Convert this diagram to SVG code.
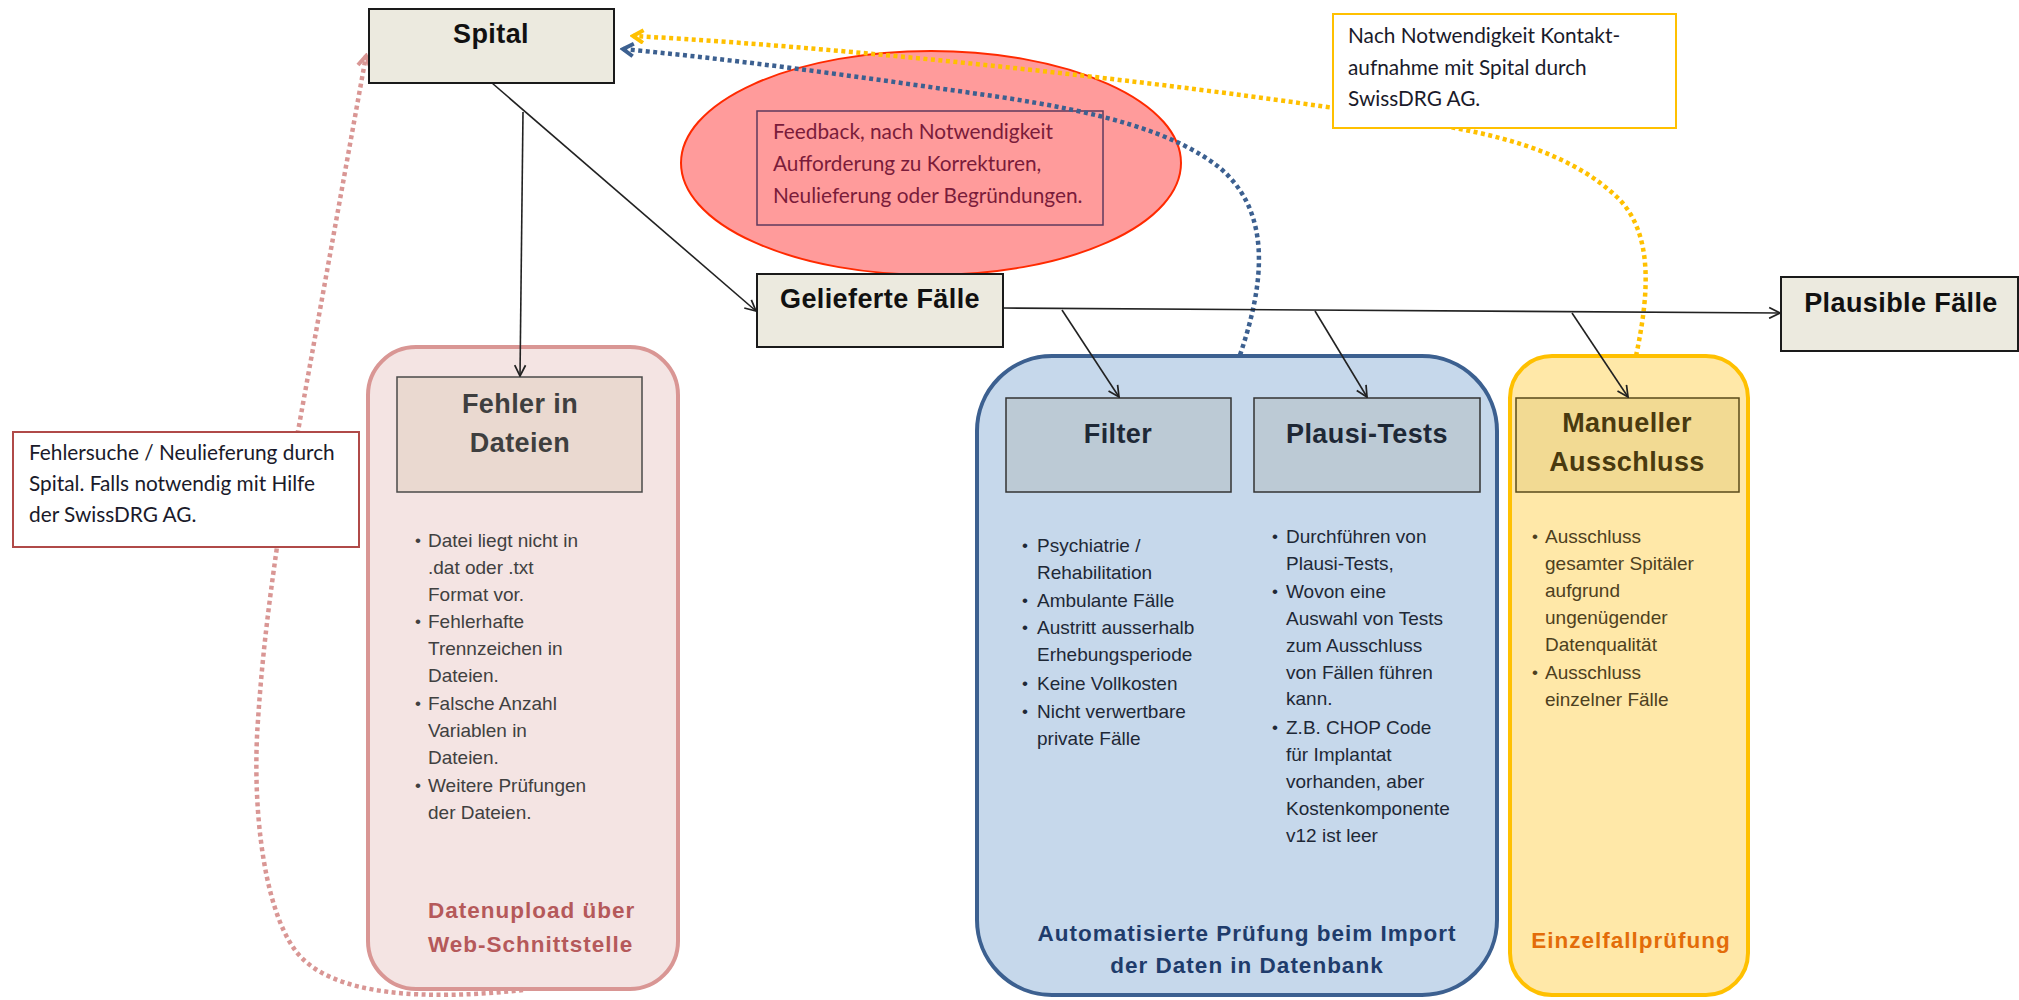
<svg xmlns="http://www.w3.org/2000/svg" width="2019" height="1000" viewBox="0 0 2019 1000">
<style>
.title{font-family:"Liberation Sans",Arial,sans-serif;font-weight:bold;font-size:27px;text-anchor:middle;letter-spacing:0.4px}
.body{font-family:"Liberation Sans",Arial,sans-serif;font-size:19px}
.bul{font-family:"Liberation Sans",Arial,sans-serif;font-size:17px}
.foot{font-family:"Liberation Sans",Arial,sans-serif;font-weight:bold;font-size:22.5px;letter-spacing:1px}
.note{font-family:Lato,"Open Sans",sans-serif;font-size:20.8px}
.mainbox{fill:#ECEADF;stroke:#1a1a1a;stroke-width:2}
.solid{fill:none;stroke:#222;stroke-width:1.6;marker-end:url(#arr)}
.dot{fill:none;stroke-width:4.5;stroke-dasharray:4 3.5}
</style>
<defs>
<marker id="arr" viewBox="0 0 12 12" refX="11" refY="6" markerWidth="13" markerHeight="13" markerUnits="userSpaceOnUse" orient="auto">
<path d="M1,1 L11,6 L1,11" fill="none" stroke="#222" stroke-width="1.6"/>
</marker>
<marker id="arrPink" viewBox="0 0 14 14" refX="11" refY="7" markerWidth="16" markerHeight="16" markerUnits="userSpaceOnUse" orient="auto">
<path d="M2,1.5 L11,7 L2,12.5" fill="none" stroke="#D99694" stroke-width="3.5"/>
</marker>
<marker id="arrBlue" viewBox="0 0 14 14" refX="11" refY="7" markerWidth="16" markerHeight="16" markerUnits="userSpaceOnUse" orient="auto">
<path d="M2,1.5 L11,7 L2,12.5" fill="none" stroke="#3C6090" stroke-width="3.5"/>
</marker>
<marker id="arrYel" viewBox="0 0 14 14" refX="11" refY="7" markerWidth="16" markerHeight="16" markerUnits="userSpaceOnUse" orient="auto">
<path d="M2,1.5 L11,7 L2,12.5" fill="none" stroke="#FFC000" stroke-width="3.5"/>
</marker>
</defs>
<rect width="2019" height="1000" fill="#ffffff"/>

<g id="datenupload">
<rect x="368" y="347" width="310" height="642" rx="48" ry="48" fill="#F4E4E3" stroke="#D99694" stroke-width="4"/>
<text class="foot" fill="#B5595A" x="428" y="918">Datenupload über</text>
<text class="foot" fill="#B5595A" x="428" y="952">Web-Schnittstelle</text>
</g>
<g id="fehler">
<rect x="397" y="377" width="245" height="115" fill="#EAD9D0" stroke="#4a4a4a" stroke-width="1.5"/>
<text class="title" fill="#3F3F3F" x="520" y="413" font-size="26">Fehler in</text>
<text class="title" fill="#3F3F3F" x="520" y="452" font-size="26">Dateien</text>
<g class="bul" fill="#404040">
<text x="415" y="546">•</text><text x="415" y="627">•</text><text x="415" y="709">•</text><text x="415" y="791">•</text>
</g>
<g class="body" fill="#404040">
<text x="428" y="547">Datei liegt nicht in</text>
<text x="428" y="574">.dat oder .txt</text>
<text x="428" y="601">Format vor.</text>
<text x="428" y="628">Fehlerhafte</text>
<text x="428" y="655">Trennzeichen in</text>
<text x="428" y="682">Dateien.</text>
<text x="428" y="710">Falsche Anzahl</text>
<text x="428" y="737">Variablen in</text>
<text x="428" y="764">Dateien.</text>
<text x="428" y="792">Weitere Prüfungen</text>
<text x="428" y="819">der Dateien.</text>
</g>
</g>

<g id="automatisiert">
<rect x="977" y="356" width="520" height="639" rx="75" ry="75" fill="#C6D8EB" stroke="#3C6090" stroke-width="4"/>
<text class="foot" fill="#1F3C6B" x="1247" y="941" text-anchor="middle">Automatisierte Prüfung beim Import</text>
<text class="foot" fill="#1F3C6B" x="1247" y="973" text-anchor="middle">der Daten in Datenbank</text>
</g>
<g id="filter">
<rect x="1006" y="398" width="225" height="94" fill="#BCCAD5" stroke="#333" stroke-width="1.5"/>
<text class="title" fill="#1E2836" x="1118" y="443">Filter</text>
<g class="bul" fill="#1E2836">
<text x="1022" y="551">•</text><text x="1022" y="606">•</text><text x="1022" y="633">•</text><text x="1022" y="689">•</text><text x="1022" y="717">•</text>
</g>
<g class="body" fill="#1E2836">
<text x="1037" y="552">Psychiatrie /</text>
<text x="1037" y="579">Rehabilitation</text>
<text x="1037" y="607">Ambulante Fälle</text>
<text x="1037" y="634">Austritt ausserhalb</text>
<text x="1037" y="661">Erhebungsperiode</text>
<text x="1037" y="690">Keine Vollkosten</text>
<text x="1037" y="718">Nicht verwertbare</text>
<text x="1037" y="745">private Fälle</text>
</g>
</g>
<g id="plausi">
<rect x="1254" y="398" width="226" height="94" fill="#BCCAD5" stroke="#333" stroke-width="1.5"/>
<text class="title" fill="#1E2836" x="1367" y="443">Plausi-Tests</text>
<g class="bul" fill="#1E2836">
<text x="1272" y="542">•</text><text x="1272" y="597">•</text><text x="1272" y="733">•</text>
</g>
<g class="body" fill="#1E2836">
<text x="1286" y="543">Durchführen von</text>
<text x="1286" y="570">Plausi-Tests,</text>
<text x="1286" y="598">Wovon eine</text>
<text x="1286" y="625">Auswahl von Tests</text>
<text x="1286" y="652">zum Ausschluss</text>
<text x="1286" y="679">von Fällen führen</text>
<text x="1286" y="705">kann.</text>
<text x="1286" y="734">Z.B. CHOP Code</text>
<text x="1286" y="761">für Implantat</text>
<text x="1286" y="788">vorhanden, aber</text>
<text x="1286" y="815">Kostenkomponente</text>
<text x="1286" y="842">v12 ist leer</text>
</g>
</g>

<g id="einzelfall">
<rect x="1510" y="356" width="238" height="639" rx="42" ry="42" fill="#FFE8A8" stroke="#FFC000" stroke-width="4"/>
<text class="foot" fill="#E36C09" x="1631" y="948" text-anchor="middle" letter-spacing="0.3">Einzelfallprüfung</text>
</g>
<g id="manuell">
<rect x="1516" y="398" width="223" height="94" fill="#F2DA93" stroke="#5a4a1a" stroke-width="1.5"/>
<text class="title" fill="#4A3A0F" x="1627" y="432">Manueller</text>
<text class="title" fill="#4A3A0F" x="1627" y="471">Ausschluss</text>
<g class="bul" fill="#4D4020">
<text x="1532" y="542">•</text><text x="1532" y="678">•</text>
</g>
<g class="body" fill="#4D4020">
<text x="1545" y="543">Ausschluss</text>
<text x="1545" y="570">gesamter Spitäler</text>
<text x="1545" y="597">aufgrund</text>
<text x="1545" y="624">ungenügender</text>
<text x="1545" y="651">Datenqualität</text>
<text x="1545" y="679">Ausschluss</text>
<text x="1545" y="706">einzelner Fälle</text>
</g>
</g>

<g id="feedback">
<ellipse cx="931" cy="163" rx="250" ry="112" fill="#FF9B9B" stroke="#FF2A00" stroke-width="2"/>
<rect x="757" y="111" width="346" height="114" fill="none" stroke="#5E3A5E" stroke-width="1.5"/>
<g class="note" fill="#7A1C3A">
<text x="773" y="139">Feedback, nach Notwendigkeit</text>
<text x="773" y="171">Aufforderung zu Korrekturen,</text>
<text x="773" y="203">Neulieferung oder Begründungen.</text>
</g>
</g>

<g id="connectors">
<path class="dot" stroke="#D99694" marker-end="url(#arrPink)" d="M523,990 C430,1000 330,998 295,950 C262,905 252,800 258,720 C262,660 268,610 277,547 L366,56"/>
<path class="dot" stroke="#3C6090" marker-end="url(#arrBlue)" d="M1240,355 C1262,290 1275,215 1220,168 C1175,132 1100,112 1000,97 C880,80 760,62 623,49"/>
<path class="dot" stroke="#FFC000" marker-end="url(#arrYel)" d="M1636,356 C1650,290 1652,235 1620,200 C1580,160 1520,140 1455,128 C1300,98 900,50 633,36"/>
<path class="solid" d="M492,83 L756,311"/>
<path class="solid" d="M523,112 L520,376"/>
<path class="solid" d="M1003,308 L1780,313"/>
<path class="solid" d="M1062,310 L1119,397"/>
<path class="solid" d="M1315,311 L1367,397"/>
<path class="solid" d="M1572,313 L1628,397"/>
</g>

<g id="note-fehlersuche">
<rect x="13" y="432" width="346" height="115" fill="#ffffff" stroke="#B04A48" stroke-width="2"/>
<g class="note" fill="#1a1a2a">
<text x="29" y="460">Fehlersuche / Neulieferung durch</text>
<text x="29" y="491">Spital. Falls notwendig mit Hilfe</text>
<text x="29" y="522">der SwissDRG AG.</text>
</g>
</g>
<g id="note-kontakt">
<rect x="1333" y="14" width="343" height="114" fill="#ffffff" stroke="#FFC000" stroke-width="2"/>
<g class="note" fill="#1a1a2a" font-size="19.2">
<text x="1348" y="43">Nach Notwendigkeit Kontakt-</text>
<text x="1348" y="75">aufnahme mit Spital durch</text>
<text x="1348" y="106">SwissDRG AG.</text>
</g>
</g>

<g id="spital">
<rect class="mainbox" x="369" y="9" width="245" height="74"/>
<text class="title" fill="#111" x="491" y="43">Spital</text>
</g>
<g id="gelieferte">
<rect class="mainbox" x="757" y="274" width="246" height="73"/>
<text class="title" fill="#111" x="880" y="308">Gelieferte Fälle</text>
</g>
<g id="plausible">
<rect class="mainbox" x="1781" y="277" width="237" height="74"/>
<text class="title" fill="#111" x="1901" y="312">Plausible Fälle</text>
</g>
</svg>
